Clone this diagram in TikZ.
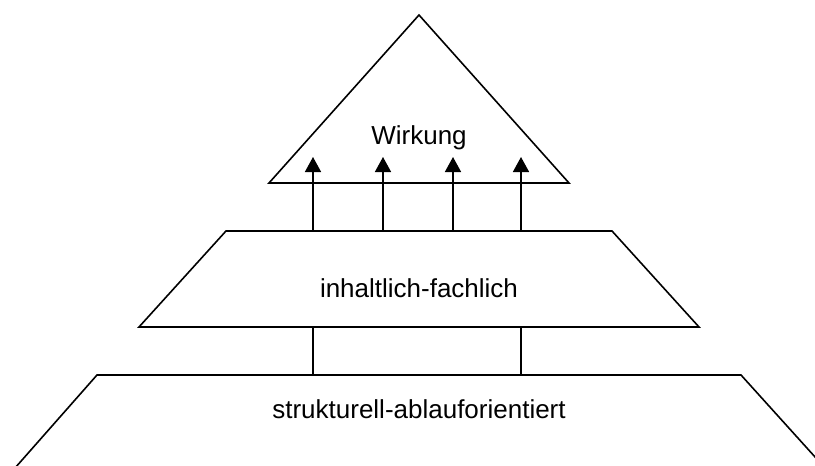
\documentclass[tikz,border=0pt]{standalone}
\usepackage{fontspec}
\setmainfont{Liberation Sans}
\usetikzlibrary{arrows.meta}
\begin{document}
\begin{tikzpicture}[x=1pt,y=-1pt,
  outline/.style={line width=1.6pt,line join=miter},
  conn/.style={line width=1.6pt},
  uparrow/.style={line width=1.6pt,-{Triangle[length=15pt,width=16pt]}},
  lbl/.style={font=\fontsize{26}{30}\selectfont,anchor=base,inner sep=0pt}]
\useasboundingbox (0,0) rectangle (815,466);
\clip (0,0) rectangle (815,466);
% triangle
\coordinate (tA) at (419,15);
\coordinate (tL) at (269,183);
\coordinate (tR) at (569,183);
\draw[outline] (tL) -- (tA) -- (tR) -- cycle;
% middle trapezoid
\coordinate (mTL) at (226,231);
\coordinate (mTR) at (612,231);
\coordinate (mBL) at (139,327);
\coordinate (mBR) at (699,327);
\draw[outline] (mTL) -- (mTR) -- (mBR) -- (mBL) -- cycle;
% bottom trapezoid
\coordinate (bTL) at (97,375);
\coordinate (bTR) at (741,375);
\coordinate (bBL) at (15,468);
\coordinate (bBR) at (825,468);
\draw[outline] (bBL) -- (bTL) -- (bTR) -- (bBR);
% labels
\node[lbl] (wirkung) at (419,144) {Wirkung};
\node[lbl] (inhalt) at (419,297) {inhaltlich-fachlich};
\node[lbl] (struktur) at (419,418) {strukturell-ablauforientiert};
% arrows
\foreach \i/\x in {1/313,2/383,3/453,4/521}{
  \coordinate (as\i) at (\x,231);
  \coordinate (ae\i) at (\x,157);
  \draw[uparrow] (as\i) -- (ae\i);
}
% connectors
\foreach \i/\x in {1/313,2/521}{
  \coordinate (cs\i) at (\x,327);
  \coordinate (ce\i) at (\x,375);
  \draw[conn] (cs\i) -- (ce\i);
}
\end{tikzpicture}
\end{document}
